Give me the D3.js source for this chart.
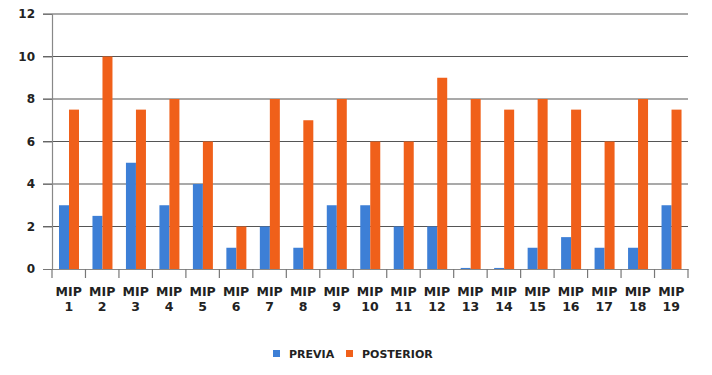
<!DOCTYPE html>
<html><head><meta charset="utf-8">
<script src="https://cdn.jsdelivr.net/npm/d3@7"></script>
<style>body{margin:0;background:#fff}svg{display:block}</style>
</head><body>
<script>
const categories = ["MIP 1","MIP 2","MIP 3","MIP 4","MIP 5","MIP 6","MIP 7","MIP 8","MIP 9","MIP 10","MIP 11","MIP 12","MIP 13","MIP 14","MIP 15","MIP 16","MIP 17","MIP 18","MIP 19"];
const previa = [3,2.5,5,3,4,1,2,1,3,3,2,2,0.05,0.05,1,1.5,1,1,3];
const posterior = [7.5,10,7.5,8,6,2,8,7,8,6,6,9,8,7.5,8,7.5,6,8,7.5];
const seriesNames = ["PREVIA","POSTERIOR"];
const colors = ["#3d7fd6","#f0601a"];
const yTicks = [0,2,4,6,8,10,12];

const W = 712, H = 375;
const m = {l:52, r:24, t:14, b:106};
const svg = d3.select("body").append("svg").attr("width",W).attr("height",H);
const x = d3.scaleBand().domain(categories).range([m.l, W-m.r]).paddingInner(0).paddingOuter(0);
const x1 = d3.scaleBand().domain(seriesNames).range([7, 27]);
const y = d3.scaleLinear().domain([0,12]).range([H-m.b, m.t]);

// gridlines
svg.append("g").selectAll("line").data(yTicks.filter(d=>d>0)).join("line")
  .attr("x1",m.l-9).attr("x2",W-m.r).attr("y1",d=>y(d)).attr("y2",d=>y(d))
  .attr("stroke","#555").attr("stroke-width",1.2);

// bars
const data = [previa, posterior];
const g = svg.append("g");
categories.forEach((c,i)=>{
  seriesNames.forEach((s,j)=>{
    const v = data[j][i];
    g.append("rect").attr("x", x(c)+x1(s)).attr("width", x1.bandwidth())
     .attr("y", y(v)).attr("height", y(0)-y(v)).attr("fill", colors[j]);
  });
});

// y axis
const ya = svg.append("g").attr("transform",`translate(${m.l},0)`)
  .call(d3.axisLeft(y).tickValues(yTicks).tickSize(9).tickPadding(8));
ya.select(".domain").attr("stroke","#888").attr("stroke-width",1.2);
ya.selectAll(".tick line").attr("stroke","#777");
ya.selectAll("text").attr("font-family","DejaVu Sans").attr("font-weight","bold").attr("font-size",12).attr("fill","#222");

// x axis
const xa = svg.append("g").attr("transform",`translate(0,${y(0)})`)
  .call(d3.axisBottom(x).tickSize(0).tickFormat(""));
xa.select(".domain").attr("stroke","#888").attr("stroke-width",1.2);
const edges = categories.map(c=>x(c)).concat([x(categories[categories.length-1])+x.bandwidth()]);
xa.selectAll("line.edge").data(edges).join("line").attr("class","edge")
  .attr("x1",d=>d).attr("x2",d=>d).attr("y1",0).attr("y2",9).attr("stroke","#777").attr("stroke-width",1.2);
const lab = svg.append("g").selectAll("text").data(categories).join("text")
  .attr("x",c=>x(c)+x.bandwidth()/2).attr("y",y(0)+27)
  .attr("text-anchor","middle").attr("font-family","DejaVu Sans").attr("font-weight","bold")
  .attr("font-size",12.5).attr("fill","#222");
lab.append("tspan").attr("x",c=>x(c)+x.bandwidth()/2).text(c=>c.split(" ")[0]);
lab.append("tspan").attr("x",c=>x(c)+x.bandwidth()/2).attr("dy",15).text(c=>c.split(" ")[1]);

// legend
const lg = svg.append("g").attr("transform","translate(273,354)");
const lx = [0,73];
seriesNames.forEach((s,j)=>{
  lg.append("rect").attr("x",lx[j]).attr("y",-4).attr("width",7).attr("height",7).attr("fill",colors[j]);
  lg.append("text").attr("x",lx[j]+16).attr("y",4).text(s)
    .attr("font-family","DejaVu Sans").attr("font-weight","bold").attr("font-size",11).attr("fill","#222");
});
</script>
</body></html>
